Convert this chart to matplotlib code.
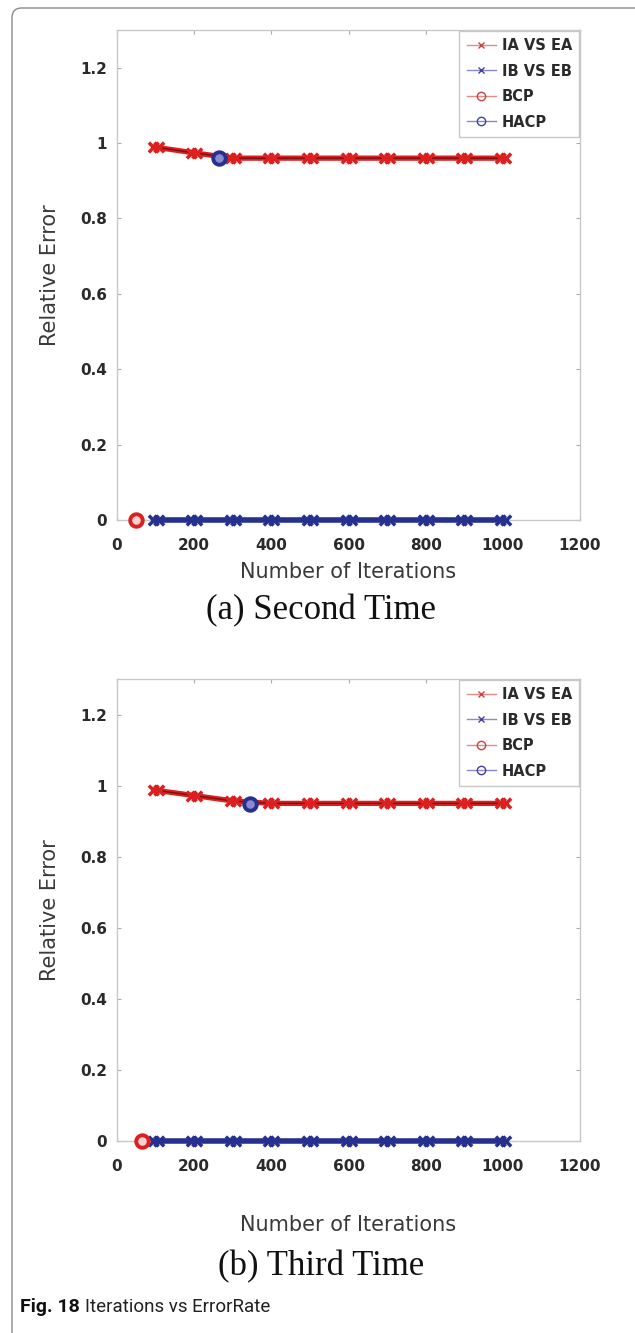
import numpy as np
import matplotlib
matplotlib.use("Agg")
import matplotlib.pyplot as plt
from matplotlib.lines import Line2D
from matplotlib.path import Path
from matplotlib.patches import FancyBboxPatch
from matplotlib.text import Annotation

# iterations and relative error values for both runs
iterations = [100, 200, 300, 400, 500, 600, 700, 800, 900, 1000]

second_ia_ea = [0.989, 0.974, 0.96, 0.96, 0.96, 0.96, 0.96, 0.96, 0.96, 0.96]
second_ib_eb = [0, 0, 0, 0, 0, 0, 0, 0, 0, 0]
second_bcp = [50, 0.0]
second_hacp = [265, 0.96]

third_ia_ea = [0.987, 0.972, 0.957, 0.95, 0.95, 0.95, 0.95, 0.95, 0.95, 0.95]
third_ib_eb = [0, 0, 0, 0, 0, 0, 0, 0, 0, 0]
third_bcp = [65, 0.0]
third_hacp = [345, 0.948]

x_ticks = [0, 200, 400, 600, 800, 1000, 1200]
y_ticks = [0, 0.2, 0.4, 0.6, 0.8, 1.0, 1.2]
y_tick_labels = ["0", "0.2", "0.4", "0.6", "0.8", "1", "1.2"]
series_names = ["IA VS EA", "IB VS EB", "BCP", "HACP"]

RED = "#dc1f1f"
BLUE = "#25308f"

# double-cross marker
verts, codes = [], []
for cx in (-0.28, 0.28):
    for dx, dy in ((-1, -1), (-1, 1)):
        verts += [(cx + 0.5 * dx, 0.5 * dy), (cx - 0.5 * dx, -0.5 * dy)]
        codes += [Path.MOVETO, Path.LINETO]
dcross = Path(verts, codes)

fig = plt.figure(figsize=(6.35, 13.33), dpi=100)

# outer frame
frame = FancyBboxPatch((12 / 635, -0.05), 1.2, 1.05 - 8 / 1333,
                       boxstyle="round,pad=0,rounding_size=0.015",
                       transform=fig.transFigure, fill=False,
                       edgecolor="#8a8a8a", linewidth=1.0, mutation_aspect=0.48)
fig.patches.append(frame)


def draw_panel(rect, ia, ib, bcp, hacp, xlabel_y, caption, caption_y):
    ax = fig.add_axes(rect)
    ax.plot(iterations, ib, color=BLUE, linewidth=4, zorder=3, clip_on=False)
    ax.plot(iterations, ib, linestyle="none", marker=dcross, markersize=11,
            markeredgecolor=BLUE, markeredgewidth=2.5, zorder=4, clip_on=False)
    ax.plot(iterations, ia, color=RED, linewidth=3.8, zorder=3)
    ax.plot(iterations, ia, color="#7a1010", linewidth=1.0, zorder=3)
    ax.plot(iterations, ia, linestyle="none", marker=dcross, markersize=11,
            markeredgecolor=RED, markeredgewidth=2.5, zorder=4)
    ax.plot([bcp[0]], [bcp[1]], linestyle="none", marker="o", markersize=9,
            markerfacecolor="#f6d0d0", markeredgecolor=RED, markeredgewidth=2.8,
            zorder=5, clip_on=False)
    ax.plot([hacp[0]], [hacp[1]], linestyle="none", marker="o", markersize=9,
            markerfacecolor="#8a8ad0", markeredgecolor=BLUE, markeredgewidth=2.8, zorder=5)

    ax.set_xlim(0, 1200)
    ax.set_ylim(0, 1.3)
    ax.set_xticks(x_ticks)
    ax.set_yticks(y_ticks)
    ax.set_yticklabels(y_tick_labels)
    ax.tick_params(direction="in", length=3, width=0.8, color="#aaaaaa",
                   top=True, right=True, labelsize=11, labelcolor="#2a2a2a")
    ax.tick_params(axis="y", pad=7)
    ax.tick_params(axis="x", pad=13)
    for lab in ax.get_xticklabels() + ax.get_yticklabels():
        lab.set_fontweight("bold")
    for sp in ax.spines.values():
        sp.set_color("#c8c8c8")
        sp.set_linewidth(1.0)

    ax.set_xlabel("Number of Iterations", fontsize=15, color="#3a3a3a")
    ax.xaxis.set_label_coords(0.5, xlabel_y)
    ax.set_ylabel("Relative Error", fontsize=15, color="#3a3a3a")
    ax.yaxis.set_label_coords(-0.123, 0.5)

    handles = [
        Line2D([], [], color="#e88a8a", linewidth=1, marker="x", markersize=5,
               markeredgecolor="#d04040"),
        Line2D([], [], color="#8a8ad0", linewidth=1, marker="x", markersize=5,
               markeredgecolor="#4040a0"),
        Line2D([], [], color="#e88a8a", linewidth=1, marker="o", markersize=6,
               markerfacecolor="none", markeredgecolor="#d04040"),
        Line2D([], [], color="#8a8ad0", linewidth=1, marker="o", markersize=6,
               markerfacecolor="none", markeredgecolor="#4040a0"),
    ]
    leg = ax.legend(handles, series_names, loc="upper right", fancybox=False,
                    framealpha=1, edgecolor="#c8c8c8",
                    prop={"weight": "bold", "size": 10.5}, borderaxespad=0.05,
                    handlelength=2.0, handletextpad=0.4, labelspacing=0.72,
                    borderpad=0.5)
    for t in leg.get_texts():
        t.set_color("#2a2a2a")

    fig.text(0.505, caption_y, caption, ha="center", va="center",
             family="Liberation Serif", fontsize=25, color="#111111")
    return ax


draw_panel([117 / 635, 1 - 520 / 1333, 463 / 635, 490 / 1333],
           second_ia_ea, second_ib_eb, second_bcp, second_hacp,
           -0.085, "(a) Second Time", 1 - 611 / 1333)
draw_panel([117 / 635, 1 - 1141 / 1333, 463 / 635, 462 / 1333],
           third_ia_ea, third_ib_eb, third_bcp, third_hacp,
           -0.16, "(b) Third Time", 1 - 1267 / 1333)

# figure caption
fig_no = fig.text(20 / 635, 1 - 1307 / 1333, "Fig. 18", fontweight="bold",
                  family="Roboto", fontsize=14, va="center", color="#111111")
fig.add_artist(Annotation("Iterations vs ErrorRate", xy=(1, 0.5), xycoords=fig_no,
                          xytext=(4, 0), textcoords="offset points",
                          va="center", family="Roboto", fontsize=13.5,
                          color="#222222"))

fig.savefig("out.png", dpi=100)
